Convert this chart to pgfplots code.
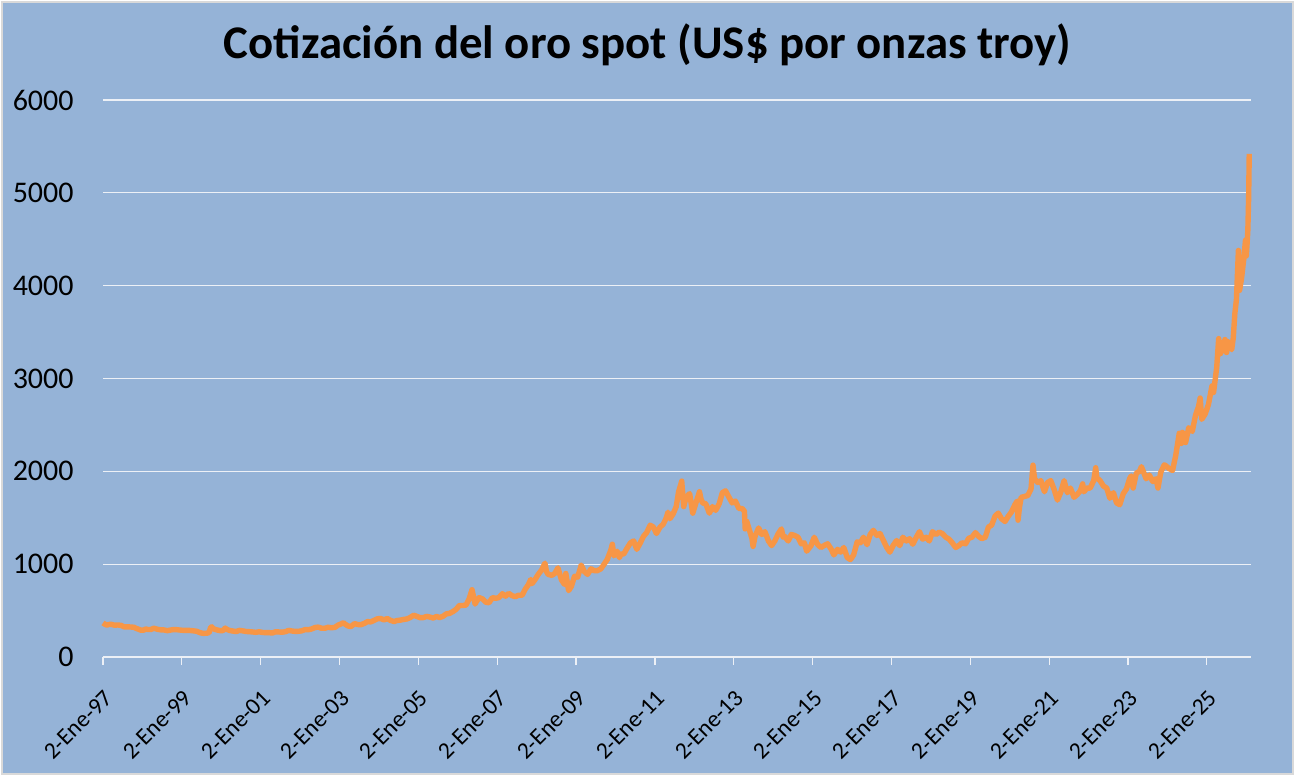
\documentclass[border=0pt]{standalone}
\usepackage{fontspec}
\setmainfont{Carlito}
\usepackage{pgfplots}
\pgfplotsset{compat=1.18}

\definecolor{panel}{RGB}{149,179,215}
\definecolor{frame}{RGB}{217,217,217}
\definecolor{gridc}{RGB}{236,240,246}
\definecolor{gold}{RGB}{247,150,70}

\begin{document}
\begin{tikzpicture}
% chart area
\fill[white] (0pt,0pt) rectangle (647.5pt,-388pt);
\filldraw[fill=panel, draw=frame, line width=1pt] (1.2pt,-1.2pt) rectangle (646.3pt,-386.8pt);
\node[anchor=base] at (323.75pt,-29pt) {\bfseries\fontsize{23.4}{28}\selectfont Cotización del oro spot (US\$ por onzas troy)};

\begin{axis}[
  at={(51.5pt,-328.5pt)}, anchor=south west,
  scale only axis, width=574pt, height=278.5pt,
  xmin=1997, xmax=2026.12, ymin=0, ymax=6000,
  axis x line*=bottom, axis y line*=left,
  x axis line style={draw=gridc, line width=0.6pt},
  y axis line style={draw=none},
  xtick={1997,1999,...,2025},
  xticklabels={2-Ene-97,2-Ene-99,2-Ene-01,2-Ene-03,2-Ene-05,2-Ene-07,2-Ene-09,2-Ene-11,2-Ene-13,2-Ene-15,2-Ene-17,2-Ene-19,2-Ene-21,2-Ene-23,2-Ene-25},
  ytick={0,1000,...,6000},
  yticklabels={0,1000,2000,3000,4000,5000,6000},
  tick align=outside, major tick length=4pt,
  xtick style={draw=gridc, line width=0.6pt},
  ytick style={draw=none},
  ymajorgrids, grid style={draw=gridc, line width=0.6pt},
  xticklabel style={font=\fontsize{11.8}{14}\selectfont, inner sep=0pt, xshift=3pt, yshift=-14.5pt, rotate=45, anchor=east},
  yticklabel style={font=\fontsize{15}{18}\selectfont, anchor=east, inner sep=0pt, xshift=-10.5pt},
  clip=false,
]
\addplot[gold, line width=2.7pt, line join=round] coordinates {
(1997.00,367) (1997.04,355) (1997.10,343) (1997.13,350) (1997.21,352) (1997.29,343) (1997.38,345) (1997.46,341) (1997.54,324) (1997.63,325) (1997.71,323) (1997.79,320) (1997.83,310) (1997.88,303) (1997.96,289)
(1998.04,290) (1998.08,302) (1998.13,297) (1998.21,296) (1998.29,310) (1998.38,299) (1998.46,293) (1998.54,292) (1998.63,284) (1998.71,290) (1998.79,296) (1998.88,294) (1998.96,290)
(1999.04,287) (1999.13,287) (1999.21,286) (1999.29,282) (1999.38,277) (1999.46,262) (1999.54,255) (1999.63,256) (1999.69,263) (1999.73,318) (1999.76,325) (1999.79,305) (1999.88,293) (1999.96,285)
(2000.04,284) (2000.10,312) (2000.13,300) (2000.21,286) (2000.29,280) (2000.38,274) (2000.46,287) (2000.54,282) (2000.63,275) (2000.71,273) (2000.79,270) (2000.88,266) (2000.96,272)
(2001.04,265) (2001.13,262) (2001.21,263) (2001.29,258) (2001.38,272) (2001.46,270) (2001.54,267) (2001.63,273) (2001.71,287) (2001.79,280) (2001.88,276) (2001.96,277)
(2002.04,282) (2002.13,296) (2002.21,294) (2002.29,302) (2002.38,318) (2002.46,322) (2002.54,310) (2002.63,310) (2002.71,320) (2002.79,315) (2002.88,319) (2002.96,343)
(2003.04,357) (2003.10,370) (2003.13,357) (2003.21,335) (2003.29,328) (2003.38,360) (2003.46,350) (2003.54,348) (2003.63,362) (2003.71,382) (2003.79,378) (2003.88,395) (2003.96,412)
(2004.04,415) (2004.13,400) (2004.21,415) (2004.29,395) (2004.38,382) (2004.46,393) (2004.54,397) (2004.63,405) (2004.71,410) (2004.79,425) (2004.88,450) (2004.96,438)
(2005.04,424) (2005.13,425) (2005.21,438) (2005.29,430) (2005.38,420) (2005.46,437) (2005.54,425) (2005.63,440) (2005.71,465) (2005.79,470) (2005.88,490) (2005.96,515)
(2006.04,555) (2006.13,555) (2006.21,560) (2006.29,630) (2006.36,725) (2006.44,570) (2006.46,590) (2006.54,640) (2006.63,625) (2006.71,590) (2006.79,585) (2006.88,640) (2006.96,632)
(2007.04,640) (2007.13,682) (2007.21,655) (2007.29,685) (2007.38,660) (2007.46,650) (2007.54,665) (2007.63,665) (2007.71,730) (2007.79,780) (2007.85,835) (2007.88,790) (2007.96,835)
(2008.04,890) (2008.13,940) (2008.21,1011) (2008.25,920) (2008.29,890) (2008.38,880) (2008.46,900) (2008.54,960) (2008.63,830) (2008.71,780) (2008.74,900) (2008.79,770) (2008.81,715) (2008.88,760) (2008.96,870)
(2009.04,860) (2009.13,990) (2009.21,920) (2009.29,890) (2009.38,950) (2009.46,930) (2009.54,930) (2009.63,950) (2009.71,1000) (2009.79,1050) (2009.88,1150) (2009.92,1215) (2009.96,1090)
(2010.04,1140) (2010.10,1070) (2010.13,1110) (2010.21,1110) (2010.29,1170) (2010.38,1230) (2010.46,1250) (2010.54,1160) (2010.63,1230) (2010.71,1300) (2010.79,1340) (2010.88,1420) (2010.96,1400)
(2011.04,1330) (2011.13,1400) (2011.21,1430) (2011.29,1500) (2011.33,1560) (2011.38,1490) (2011.46,1540) (2011.54,1620) (2011.60,1780) (2011.65,1850) (2011.68,1895) (2011.73,1620) (2011.79,1720) (2011.88,1760) (2011.96,1550)
(2012.04,1660) (2012.13,1780) (2012.17,1700) (2012.21,1660) (2012.29,1650) (2012.38,1550) (2012.46,1620) (2012.54,1580) (2012.63,1650) (2012.71,1770) (2012.79,1790) (2012.88,1720) (2012.96,1660)
(2013.04,1680) (2013.13,1600) (2013.21,1600) (2013.27,1570) (2013.29,1380) (2013.33,1460) (2013.38,1390) (2013.46,1280) (2013.49,1192) (2013.54,1300) (2013.63,1390) (2013.71,1320) (2013.79,1350) (2013.88,1250) (2013.96,1200)
(2014.04,1250) (2014.13,1330) (2014.21,1380) (2014.25,1290) (2014.29,1300) (2014.38,1250) (2014.46,1320) (2014.54,1310) (2014.63,1290) (2014.71,1220) (2014.79,1230) (2014.85,1140) (2014.96,1200)
(2015.04,1290) (2015.13,1210) (2015.21,1180) (2015.29,1200) (2015.38,1220) (2015.46,1170) (2015.54,1100) (2015.63,1160) (2015.71,1130) (2015.79,1180) (2015.88,1070) (2015.96,1050)
(2016.04,1100) (2016.13,1240) (2016.21,1230) (2016.29,1290) (2016.38,1210) (2016.46,1320) (2016.54,1365) (2016.63,1310) (2016.71,1330) (2016.79,1260) (2016.88,1180) (2016.96,1130)
(2017.04,1200) (2017.13,1255) (2017.21,1200) (2017.29,1290) (2017.38,1250) (2017.46,1275) (2017.54,1215) (2017.63,1290) (2017.71,1350) (2017.79,1270) (2017.88,1290) (2017.96,1250)
(2018.04,1350) (2018.13,1320) (2018.21,1345) (2018.29,1330) (2018.38,1290) (2018.46,1270) (2018.54,1230) (2018.63,1180) (2018.71,1200) (2018.79,1230) (2018.88,1220) (2018.96,1280)
(2019.04,1290) (2019.13,1340) (2019.21,1300) (2019.29,1275) (2019.38,1290) (2019.46,1400) (2019.54,1420) (2019.63,1520) (2019.71,1550) (2019.79,1490) (2019.88,1460) (2019.96,1515)
(2020.04,1560) (2020.13,1640) (2020.19,1680) (2020.21,1474) (2020.25,1620) (2020.29,1720) (2020.38,1730) (2020.46,1740) (2020.54,1810) (2020.59,2067) (2020.63,1920) (2020.71,1880) (2020.79,1900) (2020.88,1780) (2020.96,1880)
(2021.04,1900) (2021.13,1800) (2021.21,1690) (2021.29,1770) (2021.38,1900) (2021.46,1770) (2021.54,1820) (2021.63,1720) (2021.71,1750) (2021.79,1790) (2021.85,1865) (2021.88,1780) (2021.96,1820)
(2022.04,1820) (2022.13,1900) (2022.18,2039) (2022.21,1930) (2022.29,1900) (2022.38,1840) (2022.46,1820) (2022.54,1710) (2022.63,1770) (2022.71,1660) (2022.79,1640) (2022.88,1760) (2022.96,1810)
(2023.04,1920) (2023.08,1950) (2023.13,1820) (2023.21,1980) (2023.29,2000) (2023.34,2050) (2023.46,1920) (2023.54,1960) (2023.63,1890) (2023.71,1920) (2023.76,1820) (2023.83,1990) (2023.92,2070) (2023.96,2060)
(2024.04,2030) (2024.13,2010) (2024.21,2170) (2024.30,2410) (2024.35,2300) (2024.38,2420) (2024.46,2310) (2024.54,2470) (2024.63,2430) (2024.71,2600) (2024.79,2700) (2024.83,2790) (2024.87,2560) (2024.96,2620)
(2025.04,2720) (2025.13,2920) (2025.17,2850) (2025.25,3120) (2025.30,3430) (2025.33,3260) (2025.38,3300) (2025.46,3420) (2025.50,3280) (2025.54,3400) (2025.63,3310) (2025.67,3440) (2025.71,3700) (2025.75,3850) (2025.80,4380) (2025.82,4100) (2025.83,3950) (2025.88,4080) (2025.94,4300) (2025.98,4490) (2026.00,4320)
(2026.02,4450) (2026.04,4600) (2026.06,4950) (2026.075,5420)
};
\end{axis}
\end{tikzpicture}
\end{document}
